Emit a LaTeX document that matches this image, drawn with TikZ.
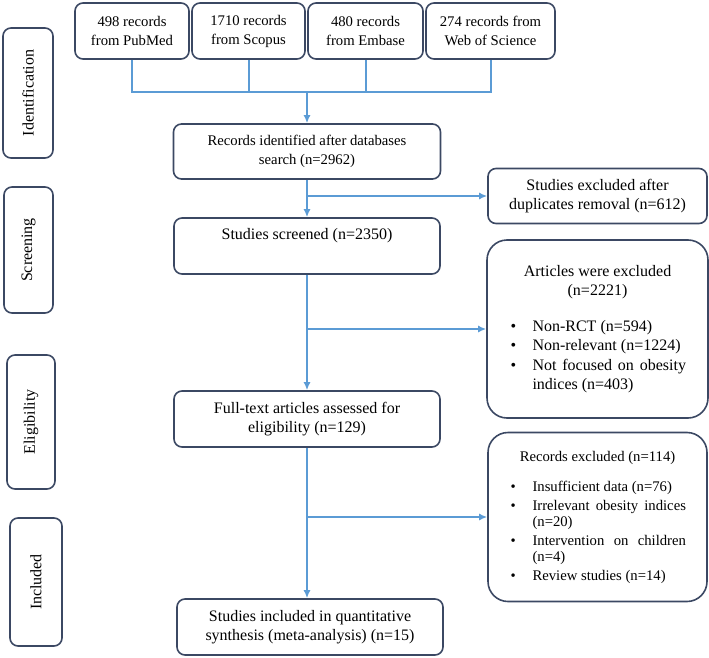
\documentclass[tikz,border=0pt]{standalone}
\usepackage{fontspec}
\setmainfont{Liberation Serif}
\usepackage{enumitem}
\usetikzlibrary{arrows.meta}

\definecolor{boxline}{RGB}{59,72,99}
\definecolor{linkblue}{RGB}{91,155,213}

\tikzset{
  box/.style={draw=boxline, line width=1.6pt, rounded corners=8pt, align=center,
    inner sep=4pt, font=\fontsize{16}{19}\selectfont},
  srcbox/.style={box, font=\fontsize{14.7}{19}\selectfont},
  stagebox/.style={box, rotate=90},
  exbox/.style={box, rounded corners=20pt, align=justify},
  link/.style={draw=linkblue, line width=2pt},
  linkarrow/.style={draw=linkblue, line width=2pt, -{Latex[length=8pt,width=7pt]}}
}

\begin{document}
\begin{tikzpicture}[x=1pt,y=-1pt]

\useasboundingbox (0,0) rectangle (709,658);
\hyphenpenalty=10000 \tolerance=9999

% Stages
\node[stagebox, minimum width=130, minimum height=50] (identL) at (28,93) {Identification};
\node[stagebox, minimum width=126, minimum height=49] (screenL) at (28.5,250) {Screening};
\node[stagebox, minimum width=134, minimum height=48] (eligL) at (31,422) {Eligibility};
\node[stagebox, minimum width=128, minimum height=52] (inclL) at (36,582) {Included};

% Databases
\node[srcbox, minimum width=114, minimum height=56] (pub) at (132,31) {498 records\\from PubMed};
\node[srcbox, minimum width=113, minimum height=56] (sco) at (248.5,31) {1710 records\\from Scopus};
\node[srcbox, minimum width=115, minimum height=56] (emb) at (365.5,31) {480 records\\from Embase};
\node[srcbox, minimum width=129, minimum height=56] (wos) at (490.5,31) {274 records from\\Web of Science};
\coordinate (join) at (307,92);

% Main flow
\node[srcbox, minimum width=267, minimum height=55] (rec) at (307,151.5) {Records identified after databases\\search (n=2962)};
\node[box, minimum width=266, minimum height=56] (scr) at (307,246) {Studies screened (n=2350)\\\strut};
\node[box, minimum width=266, minimum height=56] (full) at (307,419) {Full-text articles assessed for\\eligibility (n=129)};
\node[box, minimum width=266, minimum height=56] (incl) at (310,627) {Studies included in quantitative\\synthesis (meta-analysis) (n=15)};

% Exclusions
\node[box, minimum width=219, minimum height=55] (dup) at (597.5,196) {Studies excluded after\\duplicates removal (n=612)};
\node[exbox, minimum width=221, minimum height=178, text width=177pt,
  font=\fontsize{16}{19.5}\selectfont] (art) at (597.5,329) {%
  {\centering Articles were excluded\\(n=2221)\par}\vspace{16pt}
  \begin{itemize}[topsep=0pt,partopsep=0pt,itemsep=0pt,parsep=0pt,
    leftmargin=23.5pt,labelwidth=7pt,labelsep=15pt,align=left]
  \item Non-RCT (n=594)
  \item Non-relevant (n=1224)
  \item Not focused on obesity indices (n=403)
  \end{itemize}};
\node[exbox, minimum width=219, minimum height=169, text width=177pt,
  font=\fontsize{14.7}{16}\selectfont] (rex) at (597.5,517) {%
  {\centering Records excluded (n=114)\par}\vspace{14pt}
  \begin{itemize}[topsep=0pt,partopsep=0pt,itemsep=3pt,parsep=0pt,
    leftmargin=23.5pt,labelwidth=7pt,labelsep=15pt,align=left]
  \item Insufficient data (n=76)
  \item Irrelevant obesity indices (n=20)
  \item Intervention on children (n=4)
  \item Review studies (n=14)
  \end{itemize}};

% Connectors
\draw[link] (pub.south) |- (wos.south |- join) -- (wos.south);
\draw[link] (sco.south) -- (sco.south |- join);
\draw[link] (emb.south) -- (emb.south |- join);
\draw[linkarrow] (join) -- (rec.north);
\draw[linkarrow] (rec.south) -- (scr.north);
\draw[linkarrow] (rec.south |- dup.west) -- (dup.west);
\draw[linkarrow] (scr.south) -- (full.north);
\draw[linkarrow] (scr.south |- art.west) -- (art.west);
\draw[linkarrow] (full.south) -- (full.south |- incl.north);
\draw[linkarrow] (full.south |- rex.west) -- (rex.west);

\end{tikzpicture}
\end{document}
